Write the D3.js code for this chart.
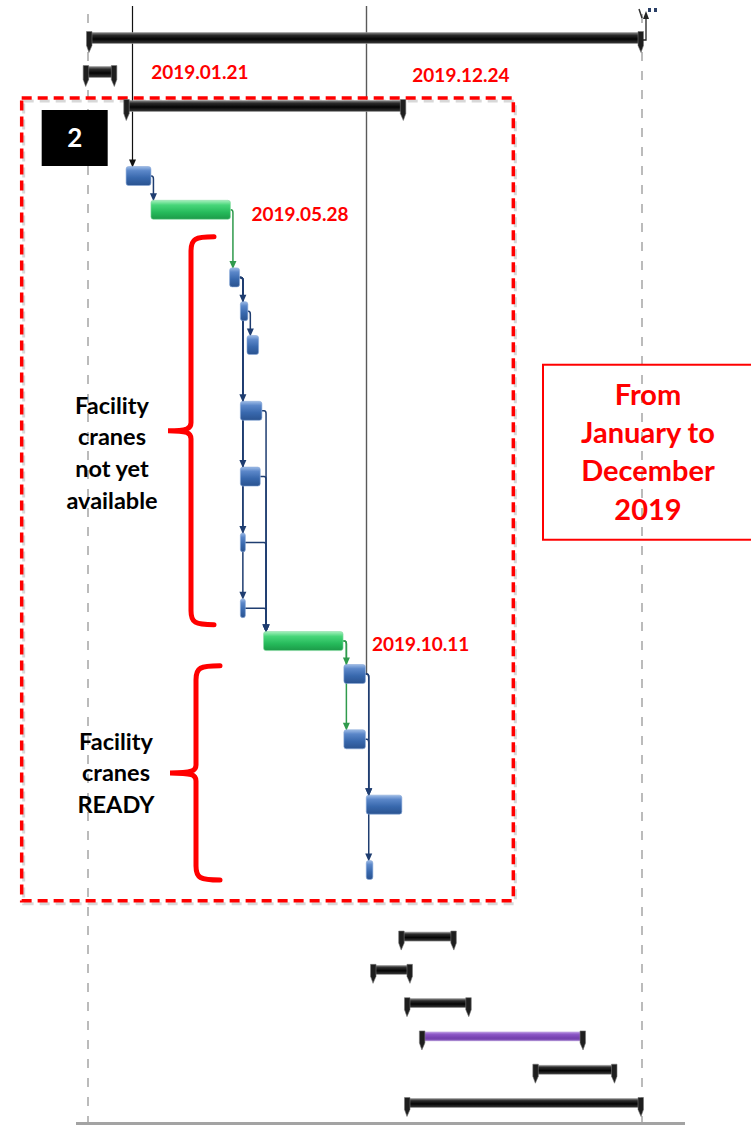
<!DOCTYPE html>
<html><head><meta charset="utf-8">
<script src="https://cdn.jsdelivr.net/npm/d3@7"></script>
<style>body{margin:0;background:#fff}svg{display:block}</style>
</head><body>
<svg id="chart" width="751" height="1126"></svg>
<script>
// ---------------- DATA ----------------
const timeDomain = ["2018-12-07", "2020-10-06"];
const taskRows   = [0, 1, 2, 4, 5, 7, 8, 9, 11, 13, 15, 17, 18, 19, 21, 23, 25, 27, 28, 29, 30, 31, 32];
const taskStarts = ["2018-12-07","2018-12-03","2019-01-21","2019-01-22","2019-02-21","2019-05-27","2019-06-09","2019-06-17",
                    "2019-06-09","2019-06-09","2019-06-09","2019-06-09","2019-07-07","2019-10-12","2019-10-12","2019-11-08",
                    "2019-11-08","2019-12-19","2019-11-15","2019-12-26","2020-01-13","2020-05-29","2019-12-26"];
const taskEnds   = ["2020-10-06","2019-01-09","2019-12-24","2019-02-21","2019-05-28","2019-06-08","2019-06-18","2019-07-01",
                    "2019-07-05","2019-07-03","2019-06-14","2019-06-14","2019-10-11","2019-11-07","2019-11-07","2019-12-21",
                    "2019-11-16","2020-02-23","2020-01-01","2020-03-12","2020-07-28","2020-09-04","2020-10-06"];
const taskTypes  = ["summary","summary","summary","blue","green","blue","blue","blue",
                    "blue","blue","blue","blue","green","blue","blue","blue",
                    "blue","summary","summary","summary","purple","summary","summary"];
const linkFrom = [3, 4, 5, 5, 5, 5, 5, 6, 8, 9, 10, 11, 12, 12, 13, 13, 14];
const linkTo   = [4, 5, 6, 8, 9, 10, 11, 7, 12, 12, 12, 12, 13, 14, 15, 16, 15];
const incomingDates   = ["2019-01-29", "2019-11-08"];
const incomingTargets = [3, 13];
const dateLabels      = ["2019.01.21", "2019.12.24", "2019.05.28", "2019.10.11"];
const phaseNumber = "2";
const groupLabelA = ["Facility", "cranes", "not yet", "available"];
const groupLabelB = ["Facility", "cranes", "READY"];
const noteLines   = ["From", "January to", "December", "2019"];

// ---------------- SETUP ----------------
const parse = d3.timeParse("%Y-%m-%d");
const svg = d3.select("#chart");
const x = d3.scaleTime().domain(timeDomain.map(parse)).range([88, 642]);
// Gantt rows are not perfectly evenly spaced in the source, so use a piecewise row scale
const y = d3.scaleLinear().domain([0, 2, 4, 9, 19, 25, 32]).range([38, 106, 176, 345, 674, 870, 1103]);
const tasks = taskRows.map((r, i) => ({
  row: r, s: parse(taskStarts[i]), e: parse(taskEnds[i]), type: taskTypes[i]
}));
const FONT = "Lato, 'Open Sans', sans-serif";

const defs = svg.append("defs");
function grad(id, stops) {
  const g = defs.append("linearGradient").attr("id", id).attr("x1", 0).attr("x2", 0).attr("y1", 0).attr("y2", 1);
  stops.forEach(s => g.append("stop").attr("offset", s[0]).attr("stop-color", s[1]));
}
grad("gBlue",   [[0,"#9dbbe6"],[0.22,"#5b87c9"],[0.6,"#3868ad"],[1,"#2a5390"]]);
grad("gGreen",  [[0,"#a6f0bd"],[0.25,"#48d67a"],[0.65,"#25b95a"],[1,"#1c9a48"]]);
grad("gBlack",  [[0,"#8a8a8a"],[0.25,"#2a2a2a"],[0.6,"#050505"],[1,"#3a3a3a"]]);
grad("gPurple", [[0,"#b690e0"],[0.3,"#8a55c4"],[0.7,"#7440ae"],[1,"#8d62c0"]]);

// ---------------- GRID ----------------
const gridG = svg.append("g");
x.domain().forEach(d => {
  gridG.append("line").attr("x1", x(d)).attr("x2", x(d)).attr("y1", 14).attr("y2", 1122)
    .attr("stroke", "#ababab").attr("stroke-width", 1.6).attr("stroke-dasharray", "9,10");
});
svg.append("line").attr("x1", 76).attr("x2", 685).attr("y1", 1123.5).attr("y2", 1123.5)
  .attr("stroke", "#a3a3a3").attr("stroke-width", 3);

// ---------------- INCOMING LINES FROM ABOVE ----------------
const barH = t => t.type === "summary" ? 10 : 19;
function arrow(g, ax, ay, color) {
  g.append("path").attr("d", `M${ax-3.5},${ay-8} L${ax+3.5},${ay-8} L${ax},${ay} Z`).attr("fill", color);
}
const incG = svg.append("g");
incomingDates.forEach((d, i) => {
  const t = tasks[incomingTargets[i]];
  const xx = Math.round(x(parse(d))) + 0.5;
  if (i === 0) {
    const yt = y(t.row) - barH(t) / 2;
    incG.append("line").attr("x1", xx).attr("x2", xx).attr("y1", 6).attr("y2", yt - 4)
      .attr("stroke", "#111").attr("stroke-width", 1.2);
    arrow(incG, xx, yt + 1, "#111");
  } else {
    incG.append("line").attr("x1", xx).attr("x2", xx).attr("y1", 6).attr("y2", y(t.row))
      .attr("stroke", "#5a5a5a").attr("stroke-width", 1.4);
  }
});

// ---------------- ANNOTATION FRAME ----------------
const frame = {x0: x(tasks[1].s) - 63, x1: x(tasks[2].e) + 109, y0: y(2) - 8, y1: y(25.5) + 14};
svg.append("rect").attr("x", frame.x0 + 2).attr("y", frame.y0 + 3).attr("width", frame.x1 - frame.x0).attr("height", frame.y1 - frame.y0)
  .attr("fill", "none").attr("stroke", "#d8d8d8").attr("stroke-width", 3).attr("stroke-dasharray", "10,6");
svg.append("rect").attr("x", frame.x0).attr("y", frame.y0).attr("width", frame.x1 - frame.x0).attr("height", frame.y1 - frame.y0)
  .attr("fill", "none").attr("stroke", "#ff0000").attr("stroke-width", 3.5).attr("stroke-dasharray", "10,6");

// ---------------- LINKS ----------------
const linkG = svg.append("g");
linkFrom.forEach((f, i) => {
  const a = tasks[f], b = tasks[linkTo[i]];
  const col = a.type === "green" ? "#2f9a4c" : "#1f3d70";
  const xs = x(a.e), ys = y(a.row);
  const tx = Math.max(xs, x(b.s)) + 2.5;
  const yt = y(b.row) - barH(b) / 2;
  linkG.append("path").attr("d", `M${xs},${ys} H${tx - 2} Q${tx},${ys} ${tx},${ys + 3} V${yt - 6}`)
    .attr("fill", "none").attr("stroke", col).attr("stroke-width", 1.5);
  arrow(linkG, tx, yt + 1, col);
});

// ---------------- BARS ----------------
const barG = svg.append("g");
tasks.forEach(t => {
  const x0 = x(t.s), x1 = x(t.e), yc = y(t.row);
  if (t.type === "summary" || t.type === "purple") {
    const h = t.row <= 2 ? 11 : 9;
    barG.append("rect").attr("x", x0).attr("y", yc - h / 2).attr("width", x1 - x0).attr("height", h)
      .attr("fill", t.type === "purple" ? "url(#gPurple)" : "url(#gBlack)")
      .attr("stroke", t.type === "purple" ? "#c8b4e4" : "#9a9a9a").attr("stroke-width", 0.6);
    const top = yc - h / 2 - 1, bot = yc + h / 2 + 2;
    barG.append("path").attr("d", `M${x0 - 1.5},${top} L${x0 + 4},${top} L${x0 + 4},${bot} L${x0 + 1},${bot + 7} L${x0 - 1.5},${bot} Z`)
      .attr("fill", "#1e1e1e").attr("stroke", "#777").attr("stroke-width", 0.6);
    barG.append("path").attr("d", `M${x1 + 1.5},${top} L${x1 - 4},${top} L${x1 - 4},${bot} L${x1 - 1},${bot + 7} L${x1 + 1.5},${bot} Z`)
      .attr("fill", "#1e1e1e").attr("stroke", "#777").attr("stroke-width", 0.6);
  } else {
    const h = 19;
    const w = Math.max(x1 - x0, 5);
    barG.append("rect").attr("x", x0).attr("y", yc - h / 2).attr("width", w).attr("height", h)
      .attr("rx", 2.5).attr("fill", t.type === "green" ? "url(#gGreen)" : "url(#gBlue)")
      .attr("stroke", t.type === "green" ? "#86dca2" : "#88a8d8").attr("stroke-width", 0.6);
  }
});

// top-right remnant marker
const tr = {x: x(tasks[0].e), y: y(0)};
svg.append("path").attr("d", `M${tr.x},${tr.y + 2} H${tr.x + 4} V${tr.y - 20}`).attr("fill", "none").attr("stroke", "#222").attr("stroke-width", 1.3);
svg.append("path").attr("d", `M${tr.x + 1},${tr.y - 19} L${tr.x + 7},${tr.y - 19} L${tr.x + 4},${tr.y - 27} Z`).attr("fill", "#222");
svg.append("line").attr("x1", tr.x - 3).attr("y1", 9).attr("x2", tr.x).attr("y2", 18).attr("stroke", "#333").attr("stroke-width", 1.5);
svg.append("rect").attr("x", tr.x + 6).attr("y", 8).attr("width", 3).attr("height", 4).attr("fill", "#2a3f66");
svg.append("rect").attr("x", tr.x + 12).attr("y", 8).attr("width", 3).attr("height", 4).attr("fill", "#2a3f66");

// ---------------- DATE LABELS ----------------
const lblG = svg.append("g").attr("font-family", FONT).attr("font-weight", 700).attr("font-size", 19).attr("fill", "#ff0000");
const lblPos = [
  [x(tasks[2].s) + 26, y(1) + 7],
  [x(tasks[2].e) + 8,  y(1) + 10],
  [x(tasks[4].e) + 21, y(5) + 11],
  [x(tasks[12].e) + 29, y(18) + 10]
];
dateLabels.forEach((t, i) => {
  lblG.append("text").attr("x", lblPos[i][0]).attr("y", lblPos[i][1]).text(t);
});

// ---------------- PHASE NUMBER BOX ----------------
svg.append("rect").attr("x", frame.x0 + 20).attr("y", frame.y0 + 12).attr("width", 66).attr("height", 56).attr("fill", "#000");
svg.append("text").attr("x", frame.x0 + 53).attr("y", frame.y0 + 49).attr("text-anchor", "middle")
  .attr("font-family", FONT).attr("font-weight", 700).attr("font-size", 26).attr("fill", "#fff").text(phaseNumber);

// ---------------- BRACKETS ----------------
function bracket(yTop, yBot, spineX, tipX, spikeX) {
  const yMid = (yTop + yBot) / 2;
  return `M${tipX},${yTop} C${spineX + 4},${yTop} ${spineX},${yTop + 2} ${spineX},${yTop + 14}
          L${spineX},${yMid - 8} C${spineX},${yMid - 2} ${spineX - 4},${yMid} ${spikeX},${yMid}
          C${spineX - 4},${yMid} ${spineX},${yMid + 2} ${spineX},${yMid + 8}
          L${spineX},${yBot - 14} C${spineX},${yBot - 2} ${spineX + 4},${yBot} ${tipX},${yBot}`;
}
const brA = [y(5.8), y(17.5)], brB = [y(18.75), y(25.3)];
const brG = svg.append("g").attr("fill", "none").attr("stroke", "#ff0000").attr("stroke-width", 5).attr("stroke-linecap", "round");
brG.append("path").attr("d", bracket(brA[0], brA[1], 191, 214, 168));
brG.append("path").attr("d", bracket(brB[0], brB[1], 196, 220, 170));

// ---------------- GROUP LABELS ----------------
function stack(lines, cx, yFirst, step, g) {
  lines.forEach((l, i) => {
    g.append("text").attr("x", cx).attr("y", yFirst + i * step).attr("text-anchor", "middle").text(l);
  });
}
const glG = svg.append("g").attr("font-family", FONT).attr("font-weight", 700).attr("font-size", 23.5).attr("fill", "#000");
stack(groupLabelA, 112, (brA[0] + brA[1]) / 2 - 17, 31.7, glG);
stack(groupLabelB, 116, (brB[0] + brB[1]) / 2 - 23, 31.5, glG);

// ---------------- NOTE BOX ----------------
const noteTop = y(9.6);
svg.append("rect").attr("x", 543).attr("y", noteTop).attr("width", 212).attr("height", 175)
  .attr("fill", "none").attr("stroke", "#ff0000").attr("stroke-width", 2);
const nG = svg.append("g").attr("font-family", FONT).attr("font-weight", 700).attr("font-size", 29).attr("fill", "#ff0000");
stack(noteLines, 648, noteTop + 40, 38.3, nG);
</script>
</body></html>
